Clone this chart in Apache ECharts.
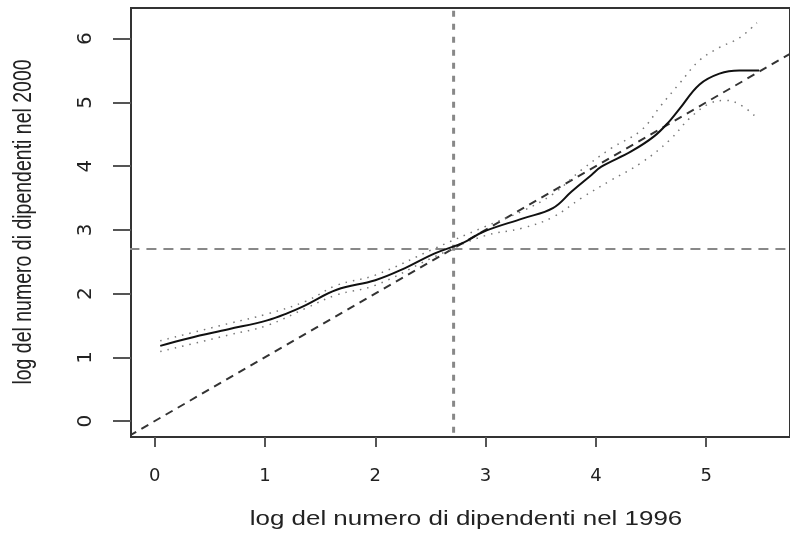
<!DOCTYPE html>
<html>
<head>
<meta charset="utf-8">
<script src="https://cdn.jsdelivr.net/npm/echarts@6/dist/echarts.min.js"></script>
<style>
  html, body { margin: 0; padding: 0; background: #fff; }
  #chart { width: 790px; height: 534px; }
</style>
</head>
<body>
<div id="chart"></div>
<script>
// tick labels
const xTicks = [0, 1, 2, 3, 4, 5]
const yTicks = [0, 1, 2, 3, 4, 5, 6]

// smoothed fit (solid)
const fitX = [0.05, 0.31, 0.67, 1.02, 1.20, 1.37, 1.65, 2.00, 2.27, 2.54, 2.80, 2.98, 3.34, 3.61, 3.78, 3.96, 4.05, 4.32, 4.53, 4.67, 4.76, 4.94, 5.12, 5.30, 5.48]
const fitY = [1.18, 1.30, 1.44, 1.58, 1.69, 1.82, 2.06, 2.21, 2.40, 2.63, 2.80, 2.97, 3.18, 3.34, 3.60, 3.86, 3.99, 4.23, 4.47, 4.71, 4.90, 5.28, 5.45, 5.50, 5.50]

// upper band (dotted)
const upX = [0.05, 0.67, 1.02, 1.37, 1.65, 2.00, 2.54, 2.98, 3.34, 3.61, 3.87, 4.14, 4.41, 4.59, 4.76, 4.94, 5.12, 5.30, 5.46]
const upY = [1.26, 1.53, 1.68, 1.88, 2.13, 2.29, 2.71, 3.04, 3.30, 3.56, 3.94, 4.28, 4.56, 4.95, 5.30, 5.66, 5.86, 6.01, 6.25]

// lower band (dotted)
const loX = [0.05, 0.67, 1.02, 1.37, 1.65, 2.00, 2.54, 2.98, 3.34, 3.61, 3.87, 4.14, 4.41, 4.67, 4.85, 5.03, 5.18, 5.33, 5.45]
const loY = [1.09, 1.35, 1.50, 1.77, 1.98, 2.13, 2.58, 2.90, 3.03, 3.20, 3.50, 3.78, 4.05, 4.41, 4.75, 4.98, 5.03, 4.94, 4.77]

// bisector y = x and reference lines
const diag = [-1, 7]
const refX = 2.71
const refY = 2.70

const xTitle = 'log del numero di dipendenti nel 1996'
const yTitle = 'log del numero di dipendenti nel 2000'

const pairs = (xs, ys) => xs.map((x, i) => [x, ys[i]])

const chart = echarts.init(document.getElementById('chart'))

const option = {
  backgroundColor: '#fff',
  animation: false,
  grid: {
    left: 131,
    top: 8,
    right: -12,
    bottom: 97,
    show: true,
    borderColor: '#333',
    borderWidth: 2,
  },
  xAxis: {
    type: 'value',
    min: -0.215,
    max: 5.76,
    splitLine: { show: false },
    axisLine: { show: false, onZero: false },
    axisTick: {
      show: true,
      inside: false,
      length: 10,
      customValues: xTicks,
      lineStyle: { color: '#555', width: 2 }
    },
    axisLabel: {
      customValues: xTicks,
      margin: 30,
      fontFamily: 'DejaVu Sans',
      fontSize: 18,
      color: '#222'
    }
  },
  yAxis: {
    type: 'value',
    min: -0.25,
    max: 6.48,
    splitLine: { show: false },
    axisLine: { show: false, onZero: false },
    axisTick: {
      show: true,
      inside: false,
      length: 18,
      customValues: yTicks,
      lineStyle: { color: '#555', width: 2 }
    },
    axisLabel: {
      customValues: yTicks,
      rotate: 90,
      margin: 35,
      fontFamily: 'DejaVu Sans',
      fontSize: 20,
      color: '#222'
    }
  },
  graphic: [
    {
      type: 'text',
      x: 466,
      y: 520,
      scaleX: 1.33,
      style: {
        text: xTitle,
        font: '19.5px "Liberation Sans", Arial, sans-serif',
        fill: '#222',
        textAlign: 'center',
        textVerticalAlign: 'middle'
      }
    },
    {
      type: 'text',
      x: 24,
      y: 222,
      rotation: Math.PI / 2,
      scaleY: 1.33,
      style: {
        text: yTitle,
        font: '19.5px "Liberation Sans", Arial, sans-serif',
        fill: '#222',
        textAlign: 'center',
        textVerticalAlign: 'middle'
      }
    }
  ],
  series: [
    {
      type: 'line',
      data: [[refX, -1], [refX, 8]],
      showSymbol: false,
      silent: true,
      lineStyle: { color: '#888', width: 3, type: [6, 7] }
    },
    {
      type: 'line',
      data: [[-1, refY], [7, refY]],
      showSymbol: false,
      silent: true,
      lineStyle: { color: '#888', width: 2, type: [10, 7] }
    },
    {
      type: 'line',
      data: diag.map(v => [v, v]),
      showSymbol: false,
      silent: true,
      lineStyle: { color: '#333', width: 2, type: [8, 6] }
    },
    {
      type: 'line',
      data: pairs(upX, upY),
      smooth: 0.4,
      showSymbol: false,
      lineStyle: { color: '#777', width: 1.5, type: [1.5, 6] }
    },
    {
      type: 'line',
      data: pairs(loX, loY),
      smooth: 0.4,
      showSymbol: false,
      lineStyle: { color: '#777', width: 1.5, type: [1.5, 6] }
    },
    {
      type: 'line',
      data: pairs(fitX, fitY),
      smooth: 0.4,
      showSymbol: false,
      lineStyle: { color: '#111', width: 2 }
    }
  ]
}

chart.setOption(option)
</script>
</body>
</html>
